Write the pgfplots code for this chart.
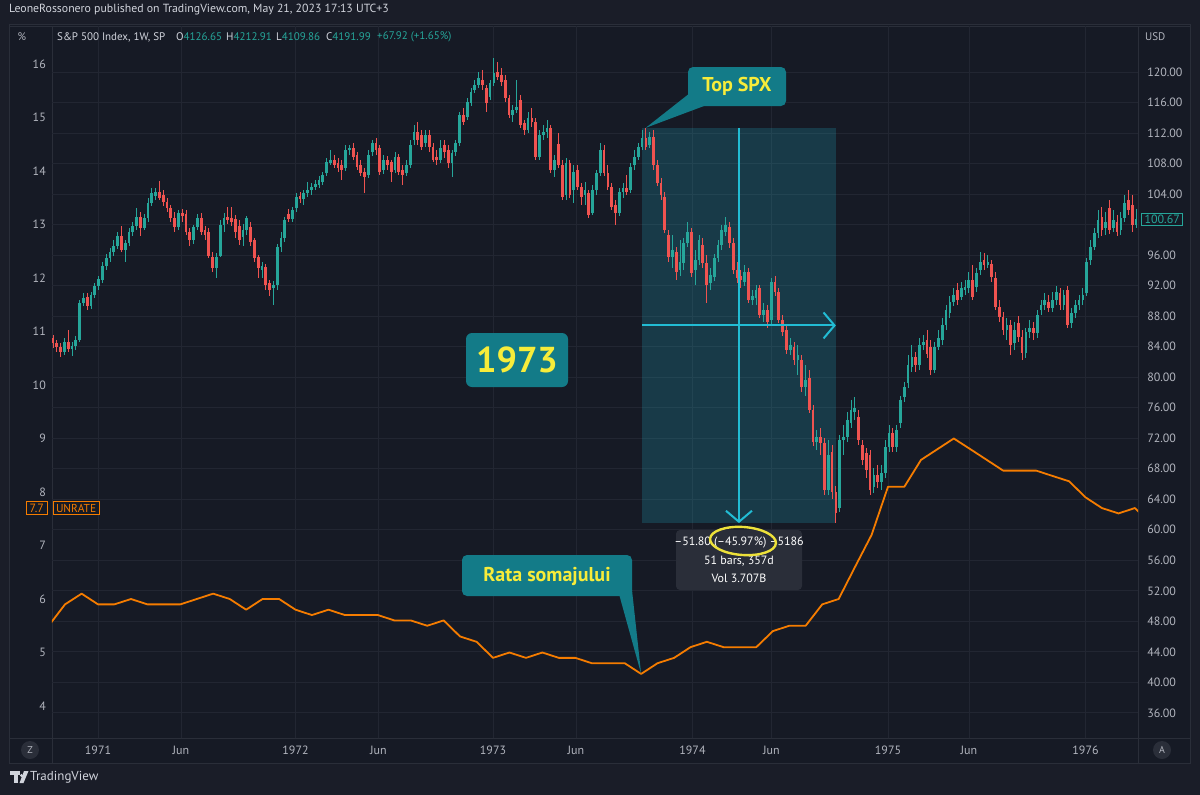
\documentclass[border=0pt]{standalone}
\usepackage{fontspec}
\setmainfont{PT Sans}
\usepackage{pgfplots}
\usepackage{pgfplotstable}
\pgfplotsset{compat=1.18}
\usetikzlibrary{arrows.meta}

\definecolor{outerbg}{HTML}{1A1D28}
\definecolor{panebg}{HTML}{161A25}
\definecolor{bordc}{HTML}{2A2E39}
\definecolor{gridc}{HTML}{222632}
\definecolor{axtxt}{HTML}{B2B5BE}
\definecolor{hdrtxt}{HTML}{D1D4DC}
\definecolor{upc}{HTML}{26A69A}
\definecolor{dnc}{HTML}{EF5350}
\definecolor{urc}{HTML}{F57C00}
\definecolor{measc}{HTML}{22BCD4}
\definecolor{callfill}{HTML}{137B88}
\definecolor{calltxt}{HTML}{F7EC3A}
\definecolor{boxgray}{HTML}{2A2E39}
\definecolor{ringc}{HTML}{EDE13A}

% S&P 500 weekly candles: week index, open, high, low, close
\pgfplotstableread{
w o h l c
0 85.1 85.5 83.8 84.5
1 84.5 84.9 83.3 84.0
2 84.0 84.5 82.6 83.3
3 83.3 85.1 82.9 84.6
4 84.6 86.2 83.3 83.7
5 83.7 84.6 82.8 84.1
6 84.1 85.4 83.6 84.9
7 84.9 90.1 84.6 89.7
8 89.7 91.0 89.3 90.4
9 90.5 91.0 88.8 89.3
10 89.3 91.2 89.0 90.8
11 90.8 92.3 90.4 91.9
12 91.9 93.3 91.4 92.9
13 92.7 95.1 92.3 94.6
14 94.6 96.1 94.0 95.6
15 95.6 96.9 95.1 96.4
16 96.4 98.0 95.9 97.2
17 97.2 99.0 96.8 98.5
18 98.5 99.8 96.4 96.7
19 96.7 98.0 95.1 97.6
20 97.6 99.5 97.2 99.0
21 99.0 100.3 98.5 99.8
22 99.8 102.2 99.3 101.0
23 101.0 101.6 98.5 99.6
24 99.6 101.4 99.3 100.9
25 100.9 103.5 100.3 102.8
26 102.8 104.8 102.4 104.1
27 103.7 104.8 103.2 104.3
28 104.3 105.7 103.2 103.5
29 103.9 104.5 102.4 103.0
30 103.0 103.5 101.6 102.2
31 102.2 102.6 100.3 100.9
32 100.9 101.6 99.0 99.7
33 99.7 101.9 99.3 101.5
34 101.5 102.0 100.3 101.1
35 101.4 101.9 98.6 99.0
36 99.0 99.5 97.2 98.0
37 98.0 100.0 97.5 99.7
38 99.7 101.4 99.3 100.9
39 100.9 101.5 98.6 99.0
40 99.3 99.8 98.0 98.6
41 99.0 99.5 95.6 95.9
42 95.7 96.4 93.8 94.3
43 94.3 96.3 93.0 95.7
44 95.9 100.6 95.8 99.9
45 99.9 101.5 99.0 100.9
46 101.0 102.3 100.1 100.6
47 100.9 102.3 99.8 100.3
48 100.7 101.3 98.2 99.0
49 99.8 100.6 97.3 98.0
50 98.4 100.1 97.2 99.3
51 99.3 101.1 98.6 100.9
52 99.7 100.3 97.2 97.7
53 98.0 98.2 95.1 95.6
54 95.7 96.0 93.0 94.3
55 94.0 95.1 93.0 94.6
56 94.4 94.8 91.4 92.1
57 92.3 92.7 90.6 91.4
58 91.7 92.6 89.5 92.1
59 92.1 97.4 91.4 97.0
60 97.0 99.0 96.4 98.2
61 98.2 101.0 97.7 100.6
62 101.4 102.0 100.3 100.7
63 100.7 102.3 100.3 101.9
64 102.2 104.1 101.6 103.6
65 103.7 104.3 102.8 103.3
66 103.3 104.5 102.6 104.1
67 104.1 105.6 103.6 104.5
68 104.5 105.4 103.9 104.9
69 104.9 105.8 104.5 105.3
70 105.2 106.4 104.8 105.8
71 105.6 106.9 105.2 106.5
72 106.8 108.7 106.4 108.2
73 108.1 109.8 107.8 108.5
74 108.5 109.1 107.4 107.8
75 108.1 108.7 106.9 107.4
76 107.8 108.5 105.8 107.1
77 107.4 110.4 107.0 109.8
78 109.8 110.4 109.1 110.0
79 110.0 110.7 108.5 108.9
80 109.1 109.5 107.2 107.6
81 107.8 108.5 106.4 106.8
82 106.9 107.4 104.1 106.2
83 106.5 109.8 106.1 109.1
84 109.5 111.1 109.0 110.7
85 110.7 111.3 109.1 109.8
86 110.0 110.4 106.5 106.9
87 107.2 109.1 106.6 108.5
88 108.5 109.0 107.2 107.8
89 108.2 108.5 105.6 106.9
90 107.2 109.5 106.8 108.9
91 108.9 109.3 106.5 106.9
92 107.2 107.8 105.2 106.5
93 106.8 108.5 106.4 107.8
94 107.8 111.1 107.4 110.4
95 111.1 113.0 110.4 112.1
96 112.1 113.4 110.4 111.1
97 111.7 112.4 109.8 110.2
98 110.7 112.4 110.2 111.7
99 111.7 112.4 109.5 110.2
100 110.2 110.7 108.2 108.5
101 108.9 109.8 107.8 108.5
102 108.5 111.1 108.1 110.0
103 110.4 111.1 108.7 109.5
104 109.8 110.4 107.4 108.1
105 108.1 109.8 106.2 109.4
106 109.5 111.1 109.0 110.7
107 110.7 114.8 110.3 114.4
108 114.4 115.3 113.0 113.4
109 114.1 116.6 113.7 116.1
110 115.9 117.9 115.5 117.4
111 117.6 119.0 117.2 118.3
112 118.3 120.0 117.9 119.2
113 119.0 120.3 117.6 118.3
114 117.9 118.3 114.8 115.9
115 116.7 119.0 116.3 118.6
116 118.6 121.8 118.2 119.9
117 120.0 121.3 119.0 119.3
118 119.6 120.5 118.2 118.7
119 119.0 119.6 116.1 116.6
120 116.6 117.0 114.0 114.4
121 114.4 115.7 113.4 115.0
122 115.0 119.0 114.6 115.4
123 116.3 117.0 112.7 113.0
124 113.3 113.7 111.7 112.4
125 112.4 114.8 112.0 114.0
126 114.0 115.3 112.8 113.4
127 113.4 114.0 108.5 108.9
128 108.9 112.4 108.5 111.7
129 111.7 113.0 111.1 112.1
130 112.1 113.7 111.3 112.7
131 112.7 113.0 106.8 107.2
132 107.2 109.1 106.2 108.5
133 110.5 112.0 107.4 107.8
134 107.8 108.5 103.2 103.6
135 103.9 108.7 103.2 108.1
136 108.1 108.5 103.5 103.9
137 104.5 107.8 102.8 106.9
138 107.2 107.8 104.5 104.9
139 104.9 105.4 102.6 103.6
140 103.9 105.6 102.6 104.5
141 104.1 104.5 100.9 101.3
142 101.5 105.2 101.3 104.5
143 104.5 107.2 103.9 106.8
144 106.8 110.7 106.4 109.8
145 109.8 110.4 106.4 106.8
146 106.8 107.8 104.5 104.9
147 104.9 105.4 101.9 102.3
148 102.6 103.2 99.9 101.5
149 101.5 104.8 101.1 104.3
150 104.3 105.4 103.5 104.8
151 104.8 106.5 103.9 104.3
152 104.5 108.1 104.1 107.5
153 107.8 109.8 107.2 108.9
154 108.9 110.7 108.5 110.2
155 110.2 112.4 109.8 111.3
156 111.3 112.68 109.8 110.2
157 110.4 112.1 110.0 111.5
158 111.5 112.4 107.2 107.8
159 107.8 108.5 105.0 105.4
160 105.4 106.1 103.2 103.9
161 103.6 104.3 98.9 99.3
162 98.6 99.3 95.1 95.7
163 95.7 98.6 94.3 96.7
164 96.4 97.0 92.7 93.8
165 94.0 98.0 93.3 95.1
166 95.0 98.2 94.0 97.6
167 97.6 100.3 97.0 99.0
168 99.0 99.5 93.1 93.6
169 94.0 96.7 92.1 95.3
170 95.3 98.6 94.7 98.0
171 97.3 98.2 94.3 95.0
172 95.0 96.0 89.7 92.1
173 92.3 94.3 91.4 93.4
174 93.1 96.1 92.6 95.6
175 95.6 98.0 95.1 97.3
176 97.3 99.9 96.7 99.3
177 99.0 101.0 98.5 99.9
178 99.7 100.3 96.9 97.6
179 97.6 98.2 93.5 94.0
180 94.0 95.1 92.3 93.0
181 93.3 94.0 91.7 92.7
182 92.5 94.7 91.9 93.8
183 93.8 94.3 89.7 90.1
184 90.1 91.4 89.5 90.6
185 90.4 92.1 89.5 91.4
186 91.7 92.1 87.7 88.1
187 88.1 89.7 87.2 88.8
188 88.8 89.5 86.4 87.2
189 87.5 93.0 86.8 92.5
190 92.5 93.3 90.6 91.2
191 91.2 91.7 87.1 87.5
192 87.5 88.1 85.4 85.9
193 86.2 86.8 83.0 83.6
194 83.6 85.1 82.9 84.2
195 84.0 84.6 81.6 82.2
196 82.2 84.2 80.3 82.9
197 82.2 82.9 78.0 78.7
198 78.7 81.6 77.6 79.6
199 79.9 80.9 75.3 75.7
200 75.7 76.3 71.0 71.5
201 71.5 73.1 70.4 72.1
202 72.1 73.3 69.8 71.4
203 71.4 72.0 64.5 65.2
204 65.2 71.8 64.5 69.8
205 70.2 71.1 64.1 64.9
206 64.9 65.8 60.88 62.2
207 62.8 72.4 62.3 71.8
208 71.8 73.7 69.8 72.1
209 72.1 75.4 71.5 74.4
210 74.0 77.0 73.3 75.7
211 75.4 77.4 74.4 75.9
212 74.8 75.7 71.1 71.8
213 71.1 71.8 68.5 69.1
214 70.0 70.7 66.8 67.8
215 69.8 70.4 64.5 65.2
216 65.6 68.1 64.8 67.2
217 67.2 68.5 65.5 66.2
218 66.2 68.5 65.2 67.4
219 67.4 71.8 66.8 70.8
220 70.8 73.7 70.2 72.7
221 72.7 73.3 70.2 70.8
222 70.8 73.7 70.2 73.1
223 74.0 77.6 73.3 77.0
224 77.4 79.4 76.7 78.7
225 79.2 82.9 78.6 81.6
226 81.3 84.2 80.7 82.6
227 82.6 83.3 80.7 81.6
228 81.6 85.1 80.9 84.2
229 84.2 85.5 83.6 84.6
230 84.9 86.2 82.5 83.1
231 83.9 84.9 80.3 80.9
232 80.9 84.6 80.5 83.9
233 83.9 86.2 83.6 85.1
234 84.9 87.7 84.2 86.8
235 86.8 89.5 86.2 88.8
236 88.4 90.6 87.7 89.9
237 89.9 91.7 89.3 90.8
238 91.4 92.3 89.5 90.1
239 90.5 92.5 90.1 91.7
240 91.4 92.7 90.8 91.8
241 91.7 93.8 91.0 92.7
242 92.7 94.7 90.1 90.5
243 91.8 94.3 91.2 93.6
244 94.0 96.4 93.4 95.1
245 95.3 96.3 94.0 94.7
246 94.7 96.0 94.3 95.1
247 94.9 95.3 92.5 93.1
248 93.0 93.8 88.8 89.2
249 89.2 90.1 87.2 87.9
250 87.9 88.5 85.5 86.2
251 86.2 87.7 84.9 86.8
252 86.8 87.5 82.9 84.2
253 84.5 87.2 83.6 86.2
254 87.1 88.0 84.6 85.3
255 85.3 86.2 82.2 83.2
256 83.2 86.4 82.5 85.9
257 85.9 87.5 85.1 86.4
258 86.4 87.2 84.9 85.8
259 85.8 88.8 85.1 88.1
260 88.8 90.1 88.1 89.5
261 89.5 91.0 88.8 90.1
262 89.9 90.8 88.5 89.1
263 89.1 91.2 88.5 90.1
264 90.1 92.0 89.5 91.2
265 91.0 91.7 88.8 89.5
266 89.5 91.4 88.8 90.8
267 91.4 91.9 86.4 86.8
268 87.1 89.1 86.4 88.4
269 88.4 90.1 87.7 89.5
270 89.5 90.8 88.8 90.1
271 90.1 91.7 89.5 90.8
272 91.0 95.6 90.6 95.1
273 95.3 98.0 94.7 97.0
274 97.0 99.5 96.7 98.9
275 98.9 101.9 98.2 100.6
276 101.0 102.3 98.5 99.3
277 99.6 101.6 98.6 100.3
278 102.2 103.2 98.8 99.3
279 99.6 101.9 99.0 100.6
280 100.3 101.3 98.5 99.0
281 99.3 101.6 98.6 100.9
282 100.9 103.9 100.3 102.8
283 103.2 104.5 101.3 101.9
284 102.6 103.9 99.0 100.0
285 99.9 102.0 99.5 100.67
}\spx

% US unemployment rate, monthly (decimal year, percent)
\pgfplotstableread{
t u
1970.750 5.5
1970.833 5.9
1970.917 6.1
1971.000 5.9
1971.083 5.9
1971.167 6.0
1971.250 5.9
1971.333 5.9
1971.417 5.9
1971.500 6.0
1971.583 6.1
1971.667 6.0
1971.750 5.8
1971.833 6.0
1971.917 6.0
1972.000 5.8
1972.083 5.7
1972.167 5.8
1972.250 5.7
1972.333 5.7
1972.417 5.7
1972.500 5.6
1972.583 5.6
1972.667 5.5
1972.750 5.6
1972.833 5.3
1972.917 5.2
1973.000 4.9
1973.083 5.0
1973.167 4.9
1973.250 5.0
1973.333 4.9
1973.417 4.9
1973.500 4.8
1973.583 4.8
1973.667 4.8
1973.750 4.6
1973.833 4.8
1973.917 4.9
1974.000 5.1
1974.083 5.2
1974.167 5.1
1974.250 5.1
1974.333 5.1
1974.417 5.4
1974.500 5.5
1974.583 5.5
1974.667 5.9
1974.750 6.0
1974.833 6.6
1974.917 7.2
1975.000 8.1
1975.083 8.1
1975.167 8.6
1975.250 8.8
1975.333 9.0
1975.417 8.8
1975.500 8.6
1975.583 8.4
1975.667 8.4
1975.750 8.4
1975.833 8.3
1975.917 8.2
1976.000 7.9
1976.083 7.7
1976.167 7.6
1976.250 7.7
1976.333 7.4
}\unrate

\newcommand{\tickfont}{\fontsize{12}{14}\selectfont}
% one candle layer: wick (h-l) or body (o-c), up or down
\pgfplotsset{
  candle/.style n args={2}{draw=none, no markers, forget plot,
    error bars/.cd, y dir=both, y explicit, error mark=none,
    error bar style={draw=#1, line width=#2}, /pgfplots/.cd},
}

\begin{document}
\begin{tikzpicture}
% canvas and chart frame
\fill[outerbg] (0,0) rectangle (1200pt,-795pt);
\begin{scope}[x=1pt,y=-1pt]
  \fill[panebg] (9,24) rectangle (1190,763);
  \draw[bordc, line width=1pt] (9,24) rectangle (1190,763);
  \draw[bordc, line width=1pt] (9,26) -- (1190,26);
  \draw[bordc, line width=1pt] (9,738) -- (1190,738);
  \draw[bordc, line width=1pt] (52,26) -- (52,763);
  \draw[bordc, line width=1pt] (1138,26) -- (1138,763);
\end{scope}

% price pane (right scale)
\begin{axis}[
  at={(52pt,-738pt)}, anchor=south west,
  scale only axis, width=1086pt, height=712pt,
  xmin=1970.767, xmax=1976.266,
  ymin=32.71, ymax=126.03,
  axis line style={draw=none},
  major tick length=0pt,
  clip mode=individual,
  xtick={1971,1971.42,1972,1972.42,1973,1973.42,1974.01,1974.41,1975,1975.41,1976},
  xticklabels={1971,Jun,1972,Jun,1973,Jun,1974,Jun,1975,Jun,1976},
  ytick={36,40,...,96,104,108,...,120},
  extra y ticks={100}, extra y tick labels={},
  extra y tick style={grid=major},
  yticklabel pos=right,
  scaled y ticks=false,
  /pgf/number format/assume math mode=true,
  yticklabel style={/pgf/number format/.cd, fixed, fixed zerofill, precision=2,
    /tikz/.cd, anchor=west, xshift=9pt, inner sep=0pt},
  xticklabel style={anchor=center, yshift=-12pt, inner sep=0pt},
  tick label style={font=\tickfont, text=axtxt},
  grid=major, major grid style={gridc, line width=0.9pt},
]
% date-and-price range box
\fill[measc, fill opacity=0.2] (axis cs:1973.7546,60.88) rectangle (axis cs:1974.7358,112.68);

% wicks
\addplot[candle={upc}{1pt},
  restrict expr to domain={\thisrow{c}-\thisrow{o}}{0:100}]
  table[x expr=1970.7722+0.019241*\thisrow{w}, y expr=0.5*(\thisrow{h}+\thisrow{l}),
        y error expr=0.5*(\thisrow{h}-\thisrow{l})] {\spx};
\addplot[candle={dnc}{1pt},
  restrict expr to domain={\thisrow{c}-\thisrow{o}}{-100:0}]
  table[x expr=1970.7722+0.019241*\thisrow{w}, y expr=0.5*(\thisrow{h}+\thisrow{l}),
        y error expr=0.5*(\thisrow{h}-\thisrow{l})] {\spx};
% bodies
\addplot[candle={upc}{2.7pt},
  restrict expr to domain={\thisrow{c}-\thisrow{o}}{0:100}]
  table[x expr=1970.7722+0.019241*\thisrow{w}, y expr=0.5*(\thisrow{o}+\thisrow{c}),
        y error expr=0.5*abs(\thisrow{c}-\thisrow{o})] {\spx};
\addplot[candle={dnc}{2.7pt},
  restrict expr to domain={\thisrow{c}-\thisrow{o}}{-100:0}]
  table[x expr=1970.7722+0.019241*\thisrow{w}, y expr=0.5*(\thisrow{o}+\thisrow{c}),
        y error expr=0.5*abs(\thisrow{c}-\thisrow{o})] {\spx};

% range arrows
\draw[measc, line width=2pt, -{Straight Barb[length=11pt,width=26pt]}]
  (axis cs:1974.2452,112.68) -- (axis cs:1974.2452,60.88);
\draw[measc, line width=2pt, -{Straight Barb[length=11pt,width=26pt]}]
  (axis cs:1973.7546,86.78) -- (axis cs:1974.7358,86.78);

\coordinate (tipTop) at (axis cs:1973.773,112.68);
\coordinate (lastpx) at (axis cs:1976.266,100.67);
\end{axis}

% unemployment pane (left scale)
\begin{axis}[
  at={(52pt,-738pt)}, anchor=south west,
  scale only axis, width=1086pt, height=712pt,
  xmin=1970.767, xmax=1976.266,
  ymin=3.402, ymax=16.71,
  axis line style={draw=none},
  major tick length=0pt,
  clip mode=individual,
  xtick=\empty,
  ytick={4,5,...,16},
  yticklabel pos=left,
  /pgf/number format/assume math mode=true,
  yticklabel style={anchor=east, xshift=-6pt, inner sep=0pt},
  tick label style={font=\tickfont, text=axtxt},
]
\addplot[urc, line width=1.8pt, line join=round] table[x=t, y=u] {\unrate};
\coordinate (tipRata) at (axis cs:1973.75,4.6);
\coordinate (last77) at (axis cs:1970.767,7.7);
\end{axis}

% overlays
\begin{scope}[x=1pt,y=-1pt]
  % header
  \node[anchor=west, inner sep=0pt, text=hdrtxt, font=\fontsize{11.8}{13}\selectfont]
    at (9,10) {LeoneRossonero published on TradingView.com, May 21, 2023 17:13 UTC+3};
  \node[anchor=center, inner sep=0pt, text=axtxt, font=\fontsize{11}{13}\selectfont] at (22,37) {\%};
  \node[anchor=west, inner sep=0pt, text=hdrtxt, font=\fontsize{11}{13}\selectfont] at (57,37) {S\&P 500 Index, 1W, SP};
  \node[anchor=west, inner sep=0pt, font=\fontsize{11}{13}\selectfont] at (176,37) {\textcolor{hdrtxt}{O}\textcolor{upc}{4126.65}};
  \node[anchor=west, inner sep=0pt, font=\fontsize{11}{13}\selectfont] at (226,37) {\textcolor{hdrtxt}{H}\textcolor{upc}{4212.91}};
  \node[anchor=west, inner sep=0pt, font=\fontsize{11}{13}\selectfont] at (276,37) {\textcolor{hdrtxt}{L}\textcolor{upc}{4109.86}};
  \node[anchor=west, inner sep=0pt, font=\fontsize{11}{13}\selectfont] at (326,37) {\textcolor{hdrtxt}{C}\textcolor{upc}{4191.99}};
  \node[anchor=west, inner sep=0pt, text=upc, font=\fontsize{11}{13}\selectfont] at (377,37) {+67.92 (+1.65\%)};
  \node[anchor=west, inner sep=0pt, text=axtxt, font=\fontsize{11}{13}\selectfont] at (1145,37) {USD};

  % last value labels
  \node[anchor=east, draw=urc, fill=panebg, text=urc, line width=1pt, inner xsep=3.5pt, inner ysep=2pt,
        font=\fontsize{12}{13}\selectfont] at ([xshift=-4pt]last77) {7.7};
  \node[anchor=west, draw=urc, fill=panebg, text=urc, line width=1pt, inner xsep=3pt, inner ysep=2pt,
        font=\fontsize{11.5}{13}\selectfont] at ([xshift=0.5pt]last77) {UNRATE};
  \node[anchor=west, draw=upc, fill=panebg, text=upc, line width=1pt, inner xsep=3pt, inner ysep=2pt,
        font=\fontsize{12}{13}\selectfont] at ([xshift=3pt]lastpx) {100.67};

  % measurement readout
  \fill[boxgray, rounded corners=4pt] (676,530) rectangle (802,590);
  \node[text=white, inner sep=0pt, font=\fontsize{12}{14}\selectfont] at (739,543) {–51.80 (–45.97\%) –5186};
  \node[text=white, inner sep=0pt, font=\fontsize{12}{14}\selectfont] at (739,561) {51 bars, 357d};
  \node[text=white, inner sep=0pt, font=\fontsize{12}{14}\selectfont] at (739,578) {Vol 3.707B};
  \draw[ringc, line width=2.4pt, rotate around={-4:(743,541)}] (743,541) ellipse [x radius=33pt, y radius=14pt];

  % callouts
  \fill[callfill] (tipTop) -- (690,93) -- (704,106) -- cycle;
  \fill[callfill, rounded corners=5pt] (688,67) rectangle (786,106);
  \node[text=calltxt, font=\bfseries\fontsize{20}{22}\selectfont] at (737,86.5) {Top SPX};

  \fill[callfill, rounded corners=6pt] (466,333) rectangle (568,387);
  \node[text=calltxt, font=\bfseries\fontsize{36}{40}\selectfont] at (517,360) {1973};

  \fill[callfill] (tipRata) -- (619,594) -- (632,590) -- cycle;
  \fill[callfill, rounded corners=5pt] (462,555) rectangle (632,596);
  \node[text=calltxt, font=\bfseries\fontsize{20}{22}\selectfont] at (547,576) {Rata somajului};

  % scale buttons
  \fill[boxgray] (30,750) circle (9pt);
  \node[text=axtxt, font=\fontsize{10}{12}\selectfont] at (30,750) {Z};
  \fill[boxgray] (1162,750) circle (9pt);
  \node[text=axtxt, font=\fontsize{10}{12}\selectfont] at (1162,750) {A};

  % footer logo
  \fill[hdrtxt] (10,771) rectangle (20,774.5);
  \fill[hdrtxt] (14,771) rectangle (17.5,783);
  \fill[hdrtxt] (21.5,775.5) circle (1.6pt);
  \fill[hdrtxt] (24,771) -- (28.5,771) -- (23.5,783) -- (19.5,783) -- cycle;
  \node[anchor=west, inner sep=0pt, text=hdrtxt, font=\fontsize{13}{15}\selectfont] at (30,777.5) {TradingView};
\end{scope}
\end{tikzpicture}
\end{document}
